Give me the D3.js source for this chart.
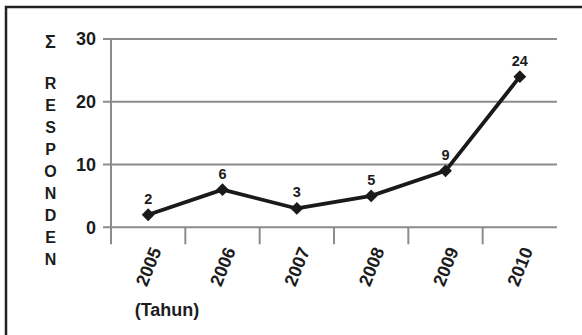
<!DOCTYPE html>
<html>
<head>
<meta charset="utf-8">
<script src="https://cdn.jsdelivr.net/npm/d3@7/dist/d3.min.js"></script>
<style>
  html, body { margin: 0; padding: 0; background: #fff; }
  svg { display: block; }
  text { font-family: "Liberation Sans", Arial, Helvetica, sans-serif; font-weight: bold; fill: #1c1c1c; }
</style>
</head>
<body>
<svg id="chart" width="582" height="335"></svg>
<script>
// Number of respondents per year
const years = ["2005", "2006", "2007", "2008", "2009", "2010"];
const respondents = [2, 6, 3, 5, 9, 24];
const yTicks = [0, 10, 20, 30];
const yTitleTop = "Σ";
const yTitleLetters = ["R", "E", "S", "P", "O", "N", "D", "E", "N"];
const xTitle = "(Tahun)";

const svg = d3.select("#chart");
const W = 582, H = 335;

// frame (left and top edges)
svg.append("path")
  .attr("d", `M6,${H} L6,7 L${W},7`)
  .attr("fill", "none")
  .attr("stroke", "#222")
  .attr("stroke-width", 2.5);

const plot = { left: 111, right: 557, top: 39, bottom: 227.3 };

const x = d3.scaleBand().domain(years).range([plot.left, plot.right]).padding(0);
const y = d3.scaleLinear().domain([0, 30]).range([plot.bottom, plot.top]);

const gray = "#8c8c8c";

// horizontal gridlines, extending left as tick marks
svg.append("g").selectAll("line").data(yTicks).join("line")
  .attr("x1", plot.left - 8).attr("x2", plot.right)
  .attr("y1", d => y(d)).attr("y2", d => y(d))
  .attr("stroke", gray).attr("stroke-width", 2);

// vertical axis line (continues below zero)
svg.append("line")
  .attr("x1", plot.left).attr("x2", plot.left)
  .attr("y1", y(30)).attr("y2", plot.bottom + 17)
  .attr("stroke", gray).attr("stroke-width", 2);

// category separators below the baseline
svg.append("g").selectAll("line").data(years.slice(1)).join("line")
  .attr("x1", d => x(d)).attr("x2", d => x(d))
  .attr("y1", plot.bottom).attr("y2", plot.bottom + 17)
  .attr("stroke", gray).attr("stroke-width", 2);

// y tick labels
svg.append("g").selectAll("text").data(yTicks).join("text")
  .attr("x", 96).attr("y", d => y(d))
  .attr("dy", "0.36em")
  .attr("text-anchor", "end")
  .attr("font-size", 18)
  .text(d => d);

// x tick labels, rotated
svg.append("g").selectAll("text").data(years).join("text")
  .attr("transform", d => `translate(${x(d) + x.bandwidth() / 2},${266.5}) rotate(-68)`)
  .attr("text-anchor", "middle")
  .attr("dy", "0.36em")
  .attr("font-size", 18)
  .text(d => d);

// x title
svg.append("text")
  .attr("x", 167).attr("y", 316)
  .attr("text-anchor", "middle")
  .attr("font-size", 18)
  .text(xTitle);

// y title, stacked letters
svg.append("text")
  .attr("x", 50.5).attr("y", 47.5)
  .attr("text-anchor", "middle")
  .attr("font-size", 18)
  .text(yTitleTop);
svg.append("g").selectAll("text").data(yTitleLetters).join("text")
  .attr("x", 50.5).attr("y", (d, i) => 89 + i * 22)
  .attr("text-anchor", "middle")
  .attr("font-size", 16)
  .text(d => d);

// series line
const cx = d => x(d) + x.bandwidth() / 2;
const pts = years.map((yr, i) => [cx(yr), y(respondents[i])]);
svg.append("path")
  .attr("d", d3.line()(pts))
  .attr("fill", "none")
  .attr("stroke", "#1a1a1a")
  .attr("stroke-width", 3.8)
  .attr("stroke-linejoin", "round");

// diamond markers
const diamond = d3.symbol().type(d3.symbolSquare).size(82);
svg.append("g").selectAll("path").data(pts).join("path")
  .attr("d", diamond)
  .attr("transform", d => `translate(${d[0]},${d[1]}) rotate(45)`)
  .attr("fill", "#1a1a1a");

// value labels
svg.append("g").selectAll("text").data(respondents).join("text")
  .attr("x", (d, i) => cx(years[i]))
  .attr("y", d => y(d) - 11)
  .attr("text-anchor", "middle")
  .attr("font-size", 14.5)
  .text(d => d);
</script>
</body>
</html>
